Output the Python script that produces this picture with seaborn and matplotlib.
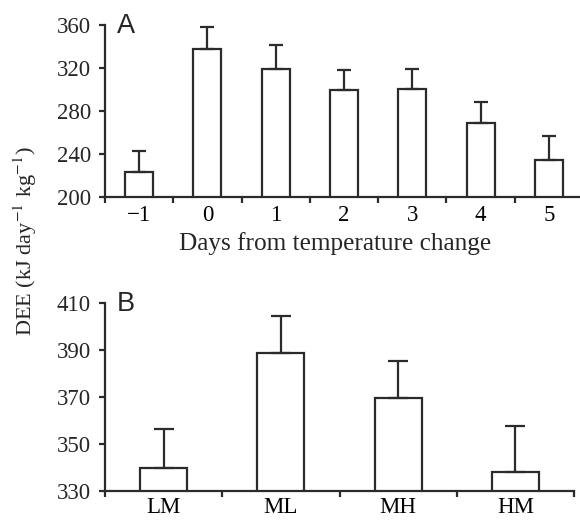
import matplotlib
matplotlib.use("Agg")
import matplotlib.pyplot as plt
import seaborn as sns
import numpy as np
import pandas as pd

# Data
days = ["\u22121", "0", "1", "2", "3", "4", "5"]
dee_days = [223, 338, 319, 300, 300.5, 268.5, 234.5]
err_days_top = [243, 358.5, 341, 318.5, 319.5, 288.5, 256.5]

groups = ["LM", "ML", "MH", "HM"]
dee_groups = [340, 389, 369.5, 338.3]
err_groups_top = [356.4, 404.6, 385.2, 357.8]

sns.set_theme(style="white")
plt.rcParams['font.family'] = ['Liberation Serif', 'DejaVu Serif']
plt.rcParams['mathtext.fontset'] = 'stix'

W, H = 580, 522
fig = plt.figure(figsize=(W / 100, H / 100), dpi=100)

EC = "#2b2b2b"
LW = 1.6
FS = 16.5

axA = fig.add_axes([105 / W, (H - 197) / H, (583 - 105) / W, (197 - 25) / H])
axB = fig.add_axes([105 / W, (H - 491) / H, (574 - 105) / W, (491 - 303.3) / H])

def panel(ax, cats, vals, tops, width, ylim, yticks, capsize, letter, xpad):
    df = pd.DataFrame({"cat": cats, "val": vals})
    sns.barplot(data=df, x="cat", y="val", order=cats, color="white",
                edgecolor=EC, linewidth=LW, width=width, errorbar=None,
                saturation=1, ax=ax)
    xs = np.arange(len(cats))
    vals = np.asarray(vals)
    tops = np.asarray(tops)
    ax.errorbar(xs, vals, yerr=[np.zeros_like(vals), tops - vals], fmt="none",
                ecolor=EC, elinewidth=LW, capsize=capsize, capthick=LW)
    ax.set_xlim(-0.5, len(cats) - 0.5)
    ax.set_ylim(*ylim)
    ax.set_yticks(yticks)
    ax.set_yticklabels([str(t) for t in yticks])
    ax.set_xticks(xs)
    ax.set_xticklabels(cats)
    ax.set_xticks(np.arange(len(cats) + 1) - 0.5, minor=True)
    ax.tick_params(axis="x", which="major", length=0, labelsize=FS, pad=xpad, colors="black")
    ax.tick_params(axis="x", which="minor", length=4, width=LW, direction="out", color=EC, bottom=True)
    ax.tick_params(axis="y", which="major", length=4, width=LW, direction="out", color=EC,
                   labelsize=FS, pad=6, left=True)
    for s in ["top", "right"]:
        ax.spines[s].set_visible(False)
    for s in ["left", "bottom"]:
        ax.spines[s].set_color(EC)
        ax.spines[s].set_linewidth(LW)
    ax.set_xlabel("")
    ax.set_ylabel("")
    ax.patch.set_alpha(0)
    ax.text(0.026, 0.995, letter, transform=ax.transAxes, fontsize=19.5,
            family=["Liberation Sans", "DejaVu Sans"], ha="left", va="center")

panel(axA, days, dee_days, err_days_top, 0.41, (200, 360), [200, 240, 280, 320, 360], 5, "A", 6)
panel(axB, groups, dee_groups, err_groups_top, 0.40, (330, 410), [330, 350, 370, 390, 410], 7, "B", 4.5)

fig.text(335 / W, 1 - 244 / H, "Days from temperature change", fontsize=18.2,
         ha="center", va="center")

fig.text(25 / W, 1 - 241 / H, "DEE (kJ day$^{-1}$ kg$^{-1}$)", fontsize=16,
         rotation=90, ha="center", va="center")

fig.savefig("out.png", dpi=100)
